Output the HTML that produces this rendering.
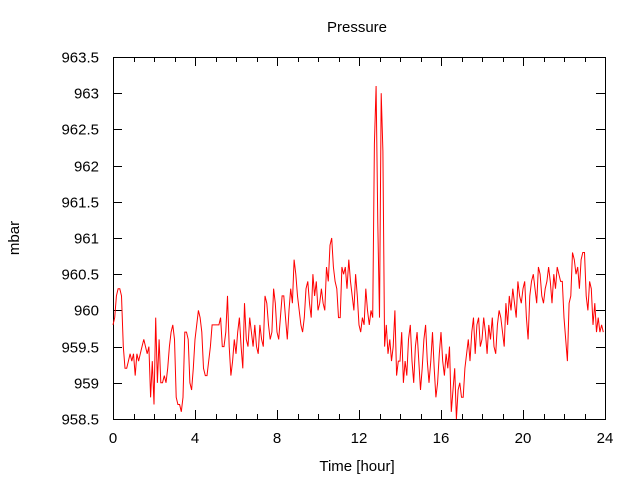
<!DOCTYPE html>
<html><head><meta charset="utf-8"><style>
body{margin:0;background:#fff}
svg{display:block}
text{font-family:"Liberation Sans",sans-serif;font-size:15px;fill:#000}
</style></head><body>
<svg width="640" height="480">
<g id="axes"></g>
<g id="plot"></g>
</svg>
<script>
const title = "Pressure";
const xTicks = [0,4,8,12,16,20,24];
const yTicks = [958.5,959,959.5,960,960.5,961,961.5,962,962.5,963,963.5];
const pressure = [
959.8,959.9,960.2,960.3,960.3,960.2,959.5,959.2,959.2,959.3,959.4,959.3,
959.4,959.1,959.4,959.3,959.4,959.5,959.6,959.5,959.4,959.5,958.8,959.3,
958.7,959.9,959.0,959.6,959.0,959.0,959.1,959.0,959.2,959.5,959.7,959.8,
959.6,958.8,958.7,958.7,958.6,958.8,959.7,959.7,959.6,959.0,958.9,959.2,
959.6,959.8,960.0,959.9,959.7,959.2,959.1,959.1,959.3,959.5,959.8,959.8,
959.8,959.8,959.8,959.9,959.5,959.5,959.7,960.2,959.5,959.1,959.3,959.6,
959.4,959.7,959.9,959.5,959.2,960.1,959.6,959.5,959.9,959.7,959.5,959.8,
959.5,959.4,959.8,959.6,959.5,960.2,960.1,959.8,959.6,959.7,960.3,960.1,
959.7,959.6,959.9,960.2,960.2,959.9,959.6,960.0,960.3,960.1,960.7,960.5,
960.2,960.0,959.8,959.7,959.9,960.3,960.4,960.1,959.9,960.5,960.2,960.4,
960.0,960.1,960.3,960.1,960.0,960.6,960.4,960.9,961.0,960.6,960.4,960.3,
959.9,959.9,960.6,960.5,960.6,960.3,960.7,960.4,960.2,960.0,960.5,960.2,
959.8,959.7,959.9,959.8,960.3,960.0,959.8,960.0,959.9,962.3,963.1,961.2,
959.9,963.0,962.2,959.5,959.8,959.4,959.6,959.3,959.5,960.0,959.1,959.3,
959.3,959.7,959.0,959.3,959.1,959.6,959.8,959.3,959.0,959.5,959.7,959.3,
958.9,959.2,959.6,959.8,959.3,959.0,959.3,959.7,959.2,958.8,959.0,959.4,
959.7,959.3,959.1,959.4,959.2,959.5,958.6,958.9,959.2,958.5,958.9,959.0,
958.8,958.8,959.2,959.4,959.6,959.3,959.7,959.9,959.4,959.8,959.9,959.5,
959.6,959.9,959.7,959.4,959.8,959.6,959.9,959.5,959.4,959.8,960.0,959.9,
959.7,959.5,960.1,959.8,960.2,960.0,960.3,960.1,959.9,960.4,960.2,960.1,
960.3,960.4,959.9,959.6,960.2,960.4,960.5,960.3,960.1,960.6,960.5,960.2,
960.1,960.3,960.4,960.6,960.4,960.1,960.5,960.3,960.6,960.5,960.4,960.4,
959.9,959.6,959.3,960.1,960.2,960.8,960.7,960.5,960.6,960.3,960.7,960.8,
960.8,960.2,960.0,960.4,960.3,959.8,960.1,959.7,959.9,959.7,959.8,959.7
];
const L=113,R=605,T=57,B=419;
const X=v=>L+(v-0)/24*(R-L);
const Y=v=>B-(v-958.5)/5*(B-T);
const NS="http://www.w3.org/2000/svg";
const axes=document.getElementById('axes'), plot=document.getElementById('plot');
function mk(tag,attrs,parent){const e=document.createElementNS(NS,tag);for(const k in attrs)e.setAttribute(k,attrs[k]);parent.appendChild(e);return e;}
const frame=mk('rect',{x:L+.5,y:T+.5,width:R-L,height:B-T,fill:'none',stroke:'#000','stroke-width':1},axes);


for(let h=0;h<=24;h++){
  const x=Math.round(X(h))+.5, len=(h%4===0)?9:5;
  mk('line',{x1:x,y1:B,x2:x,y2:B-len,stroke:'#000'},axes);
  mk('line',{x1:x,y1:T,x2:x,y2:T+len,stroke:'#000'},axes);
}
xTicks.forEach(v=>{
  const t=mk('text',{x:X(v),y:443,'text-anchor':'middle'},axes);t.textContent=v;
  
  
});
yTicks.forEach(v=>{
  const y=Math.round(Y(v))+.5;
  mk('line',{x1:L,y1:y,x2:L+9,y2:y,stroke:'#000'},axes);
  mk('line',{x1:R,y1:y,x2:R-9,y2:y,stroke:'#000'},axes);
  const t=mk('text',{x:99,y:y+5,'text-anchor':'end'},axes);t.textContent=v;
  
  
});
const tt=mk('text',{x:357,y:32,'text-anchor':'middle'},axes);tt.textContent=title;


const xt=mk('text',{x:357,y:471,'text-anchor':'middle'},axes);xt.textContent="Time [hour]";


const yt=mk('text',{x:19,y:238,'text-anchor':'middle',transform:'rotate(-90 19 238)'},axes);yt.textContent="mbar";


const n=pressure.length;
const pts=pressure.map((v,i)=>X(i*24/n).toFixed(1)+','+Y(v).toFixed(1)).join(' ');
const line=mk('polyline',{points:pts,fill:'none',stroke:'#f00','stroke-width':1},plot);


</script>
</body></html>
